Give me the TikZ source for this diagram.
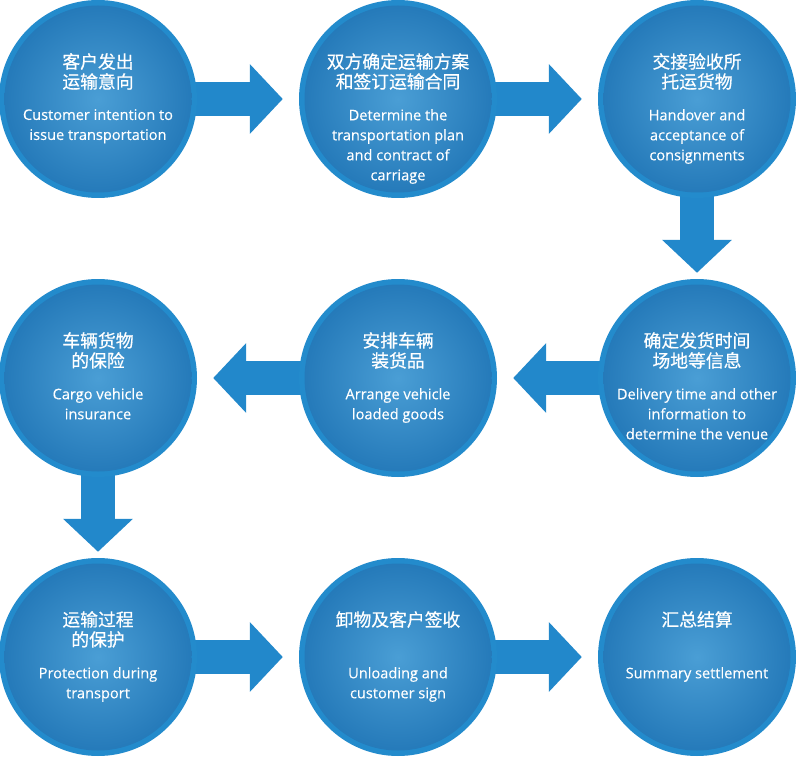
\documentclass[tikz,border=0pt]{standalone}
\usepackage{fontspec}
\setmainfont{Open Sans}
\newfontfamily\cjk[FakeBold=0.6]{Noto Sans CJK SC}
\newfontfamily\enf[FakeBold=0.3]{Open Sans}
\usetikzlibrary{arrows.meta,backgrounds}
\definecolor{ringc}{RGB}{35,139,204}
\definecolor{arrowc}{RGB}{34,136,203}
\definecolor{cA}{RGB}{74,158,213}
\definecolor{cB}{RGB}{35,120,184}
\definecolor{cC}{RGB}{24,104,164}
\pgfdeclareradialshading{cball}{\pgfpointorigin}{color(0bp)=(cA); color(25bp)=(cB); color(47bp)=(cC); color(50bp)=(cC)}
\begin{document}
\begin{tikzpicture}[x=1pt,y=-1pt,
  ball/.style={circle, minimum size=198pt, inner sep=0pt, fill=ringc,
    path picture={\shade[shading=cball] (path picture bounding box.center) circle (93.5pt);}},
  cn/.style={anchor=north, align=center, text=white, inner sep=0pt,
    font=\cjk\fontsize{17.8}{20}\selectfont},
  en/.style={anchor=north, align=center, text=white, inner sep=0pt,
    font=\enf\fontsize{14.6}{20}\selectfont},
  bigarr/.style={draw=arrowc, line width=34pt, -{Triangle[length=33pt, width=68pt]}}]
\useasboundingbox (0,0) rectangle (796,757);
\node[ball] (c1) at (98,99) {};
\node[ball] (c2) at (398,99) {};
\node[ball] (c3) at (697,99) {};
\node[ball] (c4) at (98,378) {};
\node[ball] (c5) at (398,378) {};
\node[ball] (c6) at (697,378) {};
\node[ball] (c7) at (98,657) {};
\node[ball] (c8) at (398,657) {};
\node[ball] (c9) at (697,657) {};
\begin{scope}[on background layer]
\draw[bigarr] ([xshift=-8pt]c1.east) -- ([xshift=-16pt]c2.west);
\draw[bigarr] ([xshift=-8pt]c2.east) -- ([xshift=-16pt]c3.west);
\draw[bigarr] ([yshift=8pt]c3.south) -- ([yshift=6pt]c6.north);
\draw[bigarr] ([xshift=8pt]c6.west) -- ([xshift=16pt]c5.east);
\draw[bigarr] ([xshift=8pt]c5.west) -- ([xshift=16pt]c4.east);
\draw[bigarr] ([yshift=8pt]c4.south) -- ([yshift=6pt]c7.north);
\draw[bigarr] ([xshift=-8pt]c7.east) -- ([xshift=-16pt]c8.west);
\draw[bigarr] ([xshift=-8pt]c8.east) -- ([xshift=-16pt]c9.west);
\end{scope}
\node[cn] (t1) at ([yshift=46pt]c1.center) {客户发出\\运输意向};
\node[en] (e1) at ([yshift=-10pt]c1.center) {Customer intention to\\issue transportation};
\node[cn] (t2) at ([yshift=46pt]c2.center) {双方确定运输方案\\和签订运输合同};
\node[en] (e2) at ([yshift=-10pt]c2.center) {Determine the\\transportation plan\\and contract of\\carriage};
\node[cn] (t3) at ([yshift=46pt]c3.center) {交接验收所\\托运货物};
\node[en] (e3) at ([yshift=-10pt]c3.center) {Handover and\\acceptance of\\consignments};
\node[cn] (t4) at ([yshift=46pt]c4.center) {车辆货物\\的保险};
\node[en] (e4) at ([yshift=-10pt]c4.center) {Cargo vehicle\\insurance};
\node[cn] (t5) at ([yshift=46pt]c5.center) {安排车辆\\装货品};
\node[en] (e5) at ([yshift=-10pt]c5.center) {Arrange vehicle\\loaded goods};
\node[cn] (t6) at ([yshift=46pt]c6.center) {确定发货时间\\场地等信息};
\node[en] (e6) at ([yshift=-10pt]c6.center) {Delivery time and other\\information to\\determine the venue};
\node[cn] (t7) at ([yshift=46pt]c7.center) {运输过程\\的保护};
\node[en] (e7) at ([yshift=-10pt]c7.center) {Protection during\\transport};
\node[cn] (t8) at ([yshift=46pt]c8.center) {卸物及客户签收};
\node[en] (e8) at ([yshift=-10pt]c8.center) {Unloading and\\customer sign};
\node[cn] (t9) at ([yshift=46pt]c9.center) {汇总结算};
\node[en] (e9) at ([yshift=-10pt]c9.center) {Summary settlement};
\end{tikzpicture}
\end{document}
